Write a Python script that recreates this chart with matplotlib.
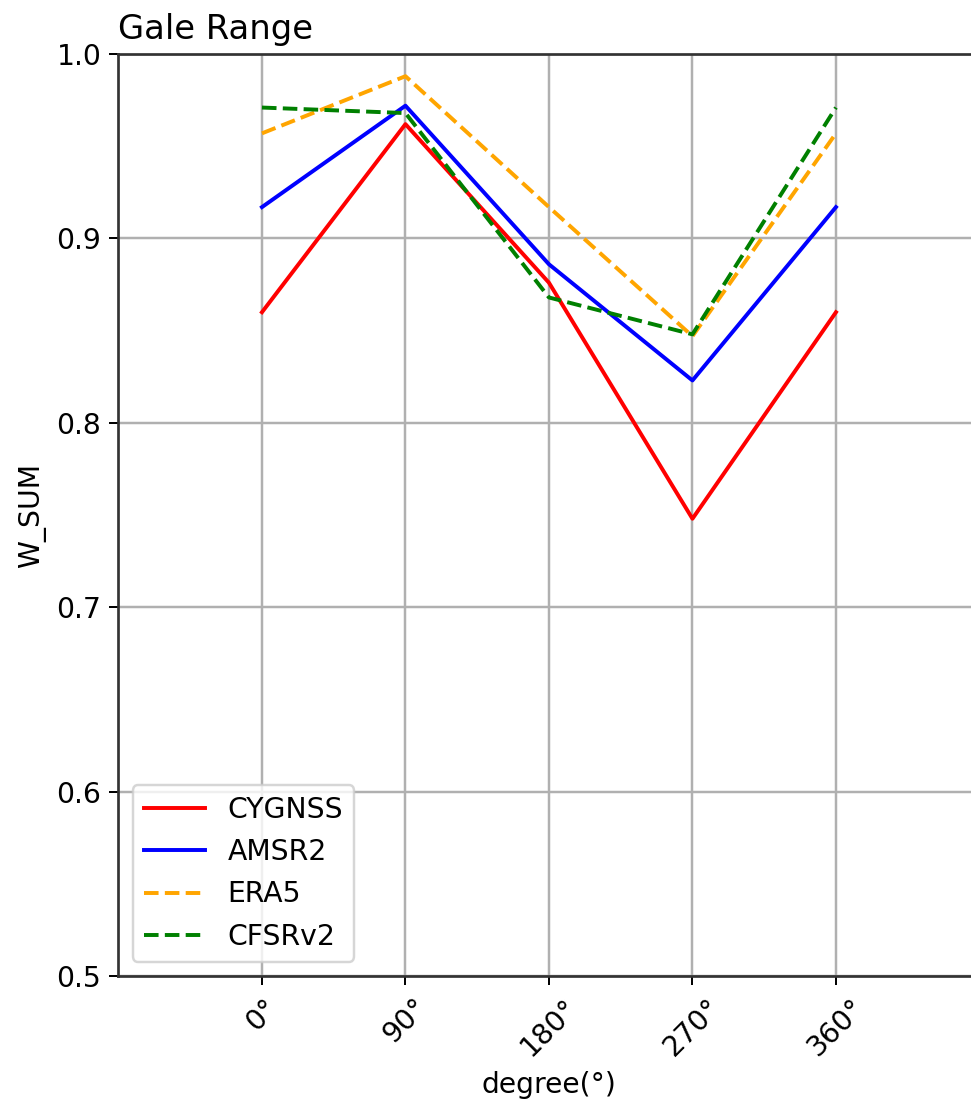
import numpy as np
import matplotlib

matplotlib.use("Agg")
import matplotlib.pyplot as plt

# wind direction bins (degrees)
degrees = [0, 90, 180, 270, 360]
tick_labels = ["0°", "90°", "180°", "270°", "360°"]

# weighted sums per product
cygnss = [0.860, 0.962, 0.876, 0.748, 0.860]
amsr2 = [0.917, 0.972, 0.886, 0.823, 0.917]
era5 = [0.957, 0.988, 0.917, 0.847, 0.957]
cfsrv2 = [0.971, 0.968, 0.868, 0.848, 0.971]


def plot():
    plt.rcParams["font.size"] = 11.5

    fig = plt.figure(figsize=(971 / 177, 1108 / 177), dpi=177)
    ax = fig.add_axes([0.122, 0.1191, 0.8867, 0.8321])

    ax.plot(degrees, cygnss, color="red", linestyle="-", linewidth=1.6, label="CYGNSS")
    ax.plot(degrees, amsr2, color="blue", linestyle="-", linewidth=1.6, label="AMSR2")
    ax.plot(degrees, era5, color="orange", linestyle="--", linewidth=1.6, label="ERA5")
    ax.plot(degrees, cfsrv2, color="green", linestyle="--", linewidth=1.6, label="CFSRv2")

    ax.set_xlim(-90, 450)
    ax.set_ylim(0.5, 1.0)
    ax.set_xticks(degrees)
    ax.set_xticklabels(tick_labels, rotation=45)
    ax.set_yticks(np.arange(0.5, 1.01, 0.1))
    ax.grid(True, linewidth=1.0)
    for side in ["left", "bottom", "top"]:
        ax.spines[side].set_linewidth(1.1)
        ax.spines[side].set_color("#333333")

    ax.set_title("Gale Range", loc="left")
    ax.set_xlabel("degree(°)")
    ax.set_ylabel("W_SUM")
    ax.legend(loc="lower left", handlelength=2.15)

    fig.savefig("out.png", dpi=177)


if __name__ == "__main__":
    plot()
